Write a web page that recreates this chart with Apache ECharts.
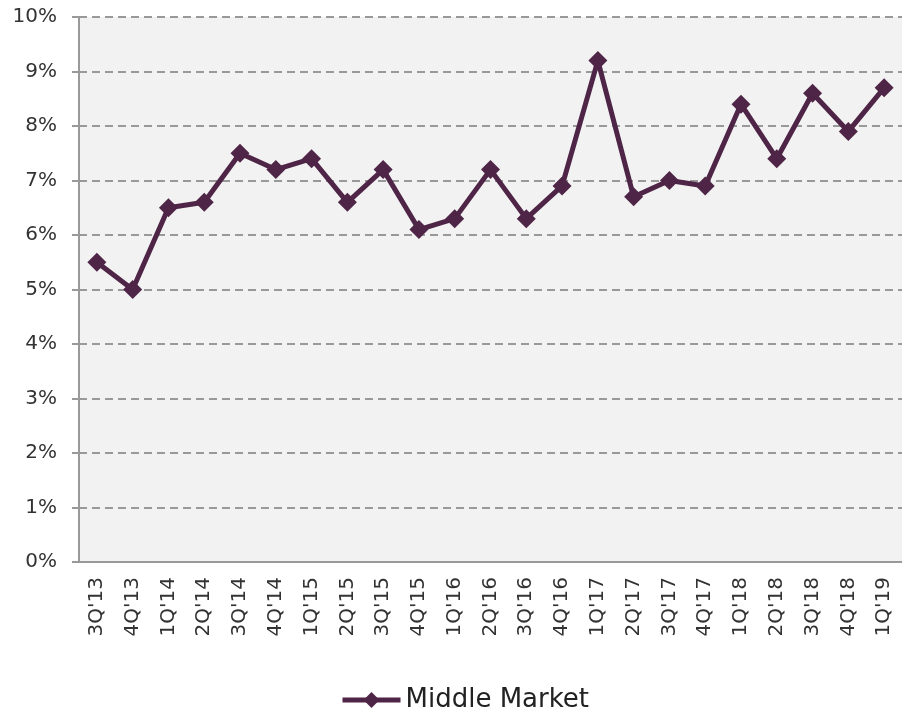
<!DOCTYPE html>
<html><head><meta charset="utf-8">
<script src="https://cdn.jsdelivr.net/npm/echarts@6/dist/echarts.min.js"></script>
<style>html,body{margin:0;padding:0;background:#fff}#c{width:902px;height:711px}</style>
</head><body><div id="c"></div>
<script>
var categories = ["3Q'13","4Q'13","1Q'14","2Q'14","3Q'14","4Q'14","1Q'15","2Q'15","3Q'15","4Q'15","1Q'16","2Q'16","3Q'16","4Q'16","1Q'17","2Q'17","3Q'17","4Q'17","1Q'18","2Q'18","3Q'18","4Q'18","1Q'19"];
var middleMarket = [5.5,5.0,6.5,6.6,7.5,7.2,7.4,6.6,7.2,6.1,6.3,7.2,6.3,6.9,9.2,6.7,7.0,6.9,8.4,7.4,8.6,7.9,8.7];
var seriesName = 'Middle Market';
var chart = echarts.init(document.getElementById('c'));
var font = 'DejaVu Sans';
chart.setOption({
  animation:false,
  textStyle:{fontFamily:font},
  grid:{left:79, top:17, width:830, height:545, show:true, backgroundColor:'#f2f2f2', borderWidth:0},
  legend:{top:682, left:335, itemWidth:58, itemHeight:20, itemGap:4,
    lineStyle:{width:5},
    textStyle:{fontFamily:font, fontSize:26, color:'#222'}, data:[seriesName]},
  xAxis:{type:'category', data:categories, boundaryGap:true,
    axisLine:{lineStyle:{color:'#999', width:2}},
    axisTick:{show:false},
    axisLabel:{rotate:90, fontSize:20, color:'#333', margin:15, fontFamily:font}},
  yAxis:{type:'value', min:0, max:10, interval:1,
    axisLine:{show:true, lineStyle:{color:'#999', width:2}},
    axisTick:{show:true, length:7, lineStyle:{color:'#999', width:2}},
    splitLine:{lineStyle:{color:'#999', type:[8,5], width:2}},
    axisLabel:{formatter:'{value}%', fontSize:20, color:'#333', margin:22, fontFamily:font}},
  series:[{name:seriesName, type:'line', data:middleMarket,
    symbol:'diamond', symbolSize:19, showAllSymbol:true,
    lineStyle:{color:'#4f2547', width:5},
    itemStyle:{color:'#4f2547'}}]
});
</script></body></html>
